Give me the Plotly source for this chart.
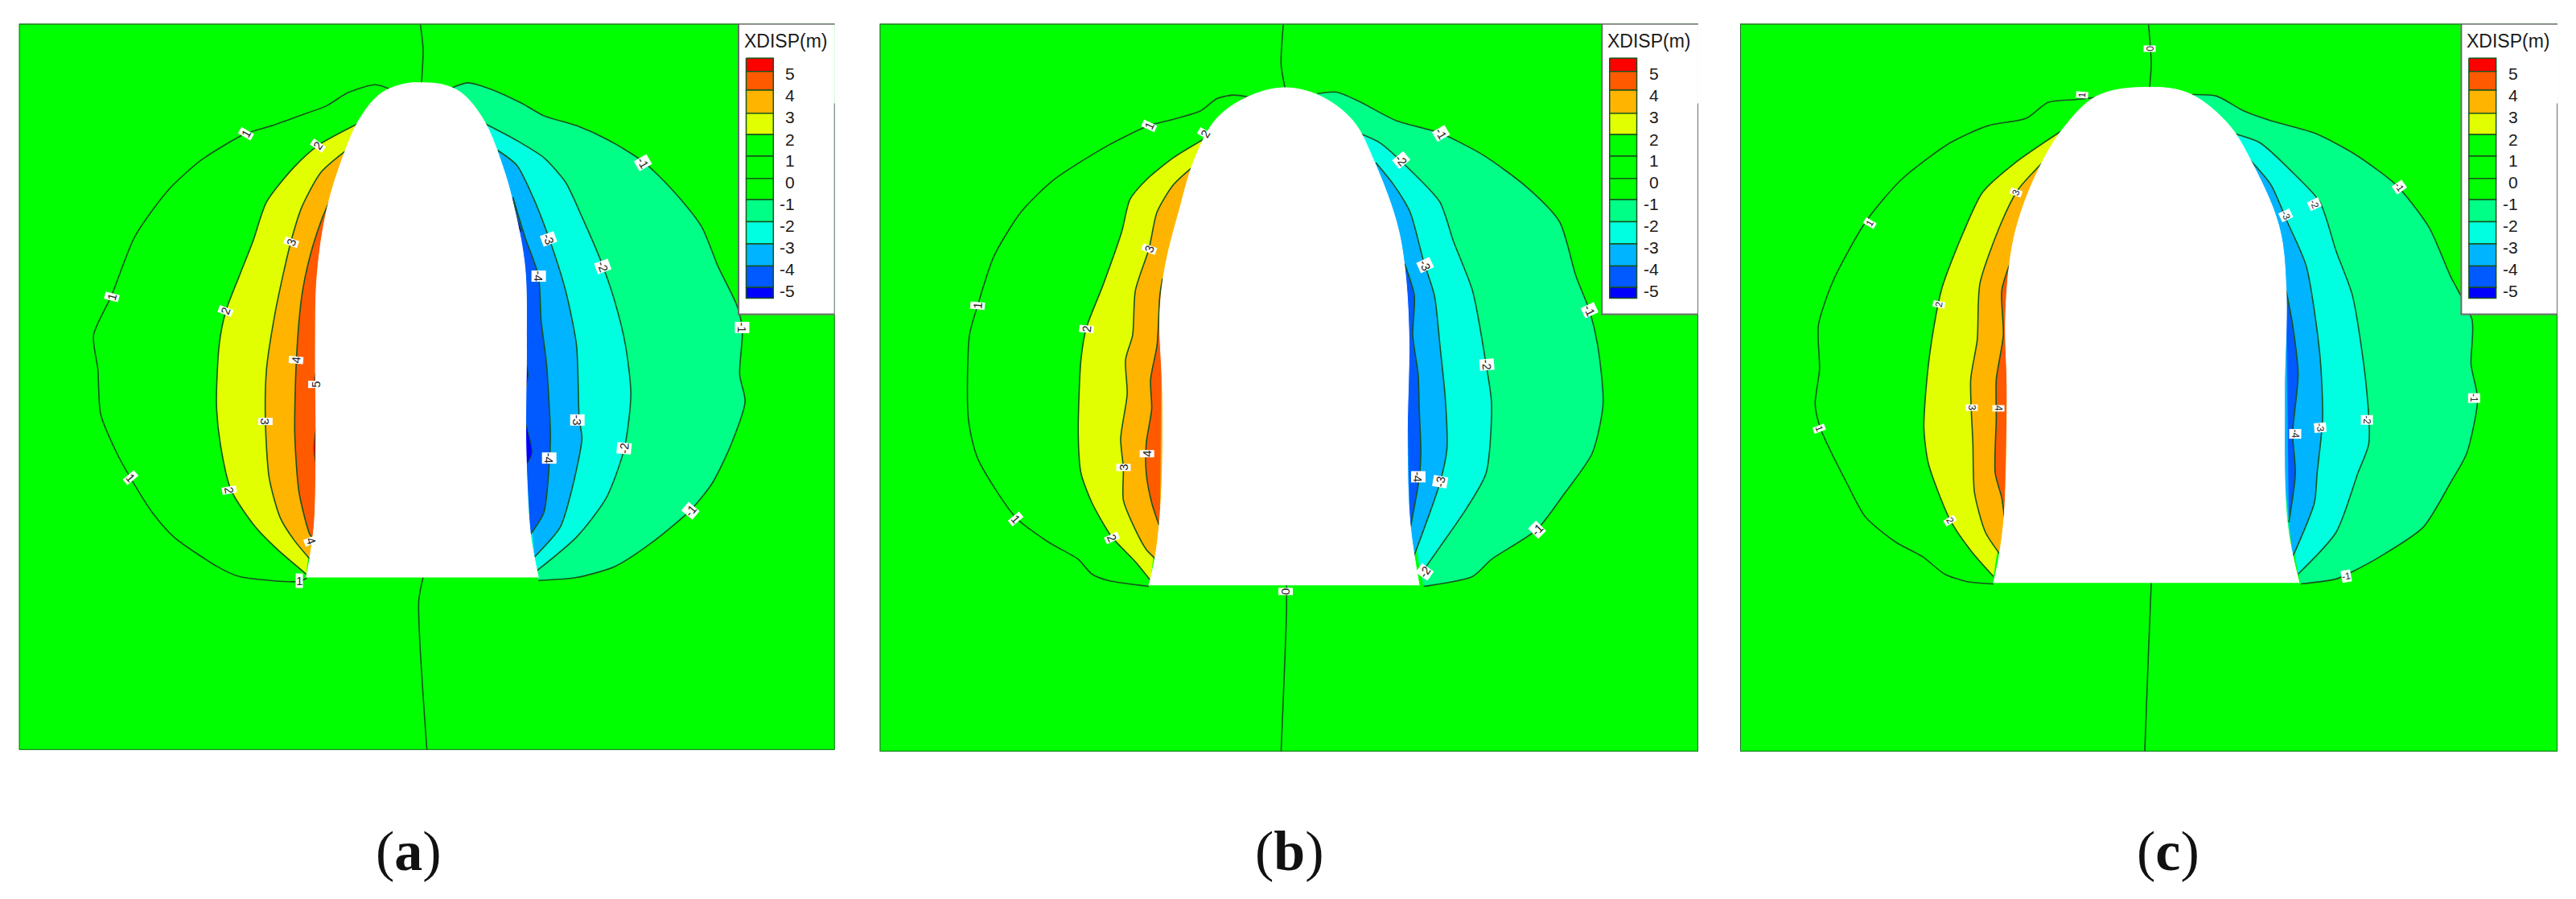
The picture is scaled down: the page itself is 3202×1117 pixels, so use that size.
import plotly.graph_objects as go

W, H = 3202, 1117

# ---------- levels and legend ----------
LEVEL_LABELS = ["5", "4", "3", "2", "1", "0", "-1", "-2", "-3", "-4", "-5"]
LEVEL_LABEL_Y = [150, 193, 237, 283, 326, 370, 414, 458, 502, 546, 591]
BAND_EDGES = [118, 145, 183, 230, 273, 317, 362, 405, 450, 495, 540, 583, 605]
BAND_COLORS = ["#ff0000", "#ff5a00", "#ffb400", "#e1ff00", "#00ff00", "#00ff00",
               "#00ff00", "#00ff87", "#00ffe1", "#00b4ff", "#005aff", "#0000ff"]
LINE = "#17531f"

# ---------- panel (a) ----------
A_TUNNEL = [(563,1172),(570,1130),(578,1060),(581,900),(580,700),(583,560),(600,430),(630,320),(662,240),(700,190),(745,170),(778,168),(815,172),(850,190),(890,245),(925,340),(945,420),(965,540),(968,700),(967,900),(975,1080),(990,1172)]
A_L1 = [(720,182),(690,172),(640,188),(600,215),(550,235),(500,255),(450,272),(370,325),(310,385),(248,480),(205,600),(172,680),(180,750),(185,840),(215,920),(240,970),(280,1040),(320,1090),(400,1150),(440,1170),(550,1180),(565,1172)]
A_L2 = [(660,250),(585,295),(540,340),(490,410),(465,490),(440,560),(415,632),(403,700),(398,820),(405,900),(425,995),(470,1070),(510,1115),(563,1165)]
A_L3 = [(637,305),(590,350),(555,420),(535,490),(520,560),(505,640),(490,750),(488,855),(495,970),(515,1050),(540,1095),(570,1135)]
A_L4 = [(605,410),(590,450),(570,520),(555,600),(545,730),(542,880),(550,1000),(570,1085),(578,1095)]
A_L5 = [[(584,745),(578,770),(584,800)], [(584,850),(577,910),(584,960)]]
A_R1 = [(827,180),(860,168),(900,180),(960,210),(1000,235),(1060,255),(1120,285),(1185,330),(1240,390),(1290,460),(1320,540),(1355,620),(1365,670),(1360,760),(1370,815),(1345,900),(1310,980),(1270,1035),(1200,1100),(1130,1150),(1060,1172),(990,1178)]
A_R2 = [(890,250),(950,285),(1000,320),(1040,370),(1070,440),(1105,530),(1130,610),(1150,700),(1160,800),(1148,910),(1115,1010),(1060,1090),(985,1160)]
A_R3 = [(915,305),(950,335),(980,400),(1010,485),(1040,590),(1060,700),(1065,850),(1070,890),(1050,1000),(1030,1070),(983,1130)]
A_R4 = [(943,400),(965,480),(990,560),(995,650),(1005,740),(1012,880),(1010,940),(1000,1040),(975,1085)]
A_R5 = [[(943,400),(950,440),(958,470),(940,460)], [(964,720),(971,760),(964,800)], [(964,850),(978,920),(964,950)]]
A_TOP = [(773,50),(778,100),(775,168)]
A_BOTTOM = [(778,1172),(770,1220),(785,1522)]
A_TAGS = [(452,272,"1",-60),(205,603,"1",-75),(240,970,"1",50),(550,1178,"1",0),(585,295,"2",-55),(415,632,"2",-70),(422,995,"2",80),(535,492,"3",-70),(488,855,"3",90),(545,730,"4",-85),(572,1097,"4",70),(580,780,"5",-90),(1183,330,"-1",60),(1365,665,"-1",90),(1270,1037,"-1",-50),(1108,540,"-2",70),(1147,910,"-2",-85),(1008,485,"-3",70),(1062,853,"-3",90),(990,560,"-4",90),(1010,930,"-4",90)]

# ---------- panel (b) ----------
B_TUNNEL = [(515,1188),(528,1120),(538,1000),(540,800),(535,640),(545,540),(570,430),(600,320),(640,240),(700,195),(765,178),(830,195),(890,245),(930,330),(970,450),(985,540),(993,680),(990,900),(995,1060),(1012,1188)]
B_L1 = [(700,197),(670,193),(640,200),(610,225),(560,242),(515,255),(440,295),(340,365),(280,430),(230,520),(200,620),(185,680),(183,850),(200,930),(270,1050),(330,1100),(385,1135),(410,1165),(440,1178),(515,1190)]
B_L2 = [(615,283),(560,320),(510,365),(480,405),(465,470),(430,580),(400,665),(390,730),(385,880),(390,960),(410,1020),(447,1090),(490,1140),(518,1178)]
B_L3 = [(592,342),(560,375),(530,430),(515,505),(490,590),(485,680),(472,730),(475,800),(463,890),(468,950),(468,1015),(490,1075),(510,1115),(528,1135)]
B_L4 = [(540,565),(535,600),(530,700),(518,770),(520,830),(510,900),(510,960),(520,1020),(535,1070)]
B_R1 = [(825,190),(860,187),(900,205),(970,245),(1050,270),(1130,315),(1210,380),(1270,450),(1300,560),(1325,630),(1340,700),(1350,820),(1330,920),(1280,1000),(1228,1075),(1145,1135),(1110,1170),(1020,1190)]
B_R2 = [(905,272),(940,290),(1000,350),(1050,410),(1075,490),(1110,590),(1135,740),(1145,820),(1135,960),(1100,1030),(1050,1110),(1015,1165)]
B_R3 = [(932,330),(965,375),(995,430),(1020,530),(1040,600),(1050,700),(1060,810),(1063,910),(1050,980),(1000,1135)]
B_R4 = [(985,535),(1003,600),(1000,680),(1010,760),(1012,830),(1015,920),(1012,970),(995,1075)]
B_TOP = [(762,50),(758,130),(765,178)]
B_BOTTOM = [(768,1188),(768,1240),(758,1525)]
B_TAGS = [(515,255,"1",-65),(200,620,"1",-85),(270,1052,"1",50),(618,272,"2",-60),(400,667,"2",-85),(447,1092,"2",65),(515,505,"3",-70),(468,948,"3",-90),(511,920,"4",-90),(1052,270,"-1",60),(1325,630,"-1",65),(1228,1075,"-1",-45),(978,325,"-2",50),(1137,740,"-2",85),(1022,1160,"-2",-55),(1023,538,"-3",65),(1050,977,"-3",-80),(1010,968,"-4",90),(766,1200,"0",90)]

# ---------- panel (c) ----------
C_TUNNEL = [(500,1183),(510,1130),(520,1040),(525,800),(522,650),(530,530),(545,450),(580,350),(625,265),(690,195),(785,177),(860,190),(930,250),(975,330),(1025,460),(1038,590),(1035,800),(1040,1060),(1062,1183)]
C_L1 = [(695,197),(650,202),(600,208),(560,240),(490,255),(420,290),(330,365),(265,450),(205,570),(178,660),(180,750),(172,820),(182,870),(230,980),(265,1050),(320,1100),(370,1130),(410,1165),(450,1180),(500,1185)]
C_L2 = [(623,267),(540,330),(480,390),(445,470),(405,585),(385,700),(375,800),(372,870),(380,940),(420,1055),(460,1120),(500,1170)]
C_L3 = [(590,330),(545,385),(515,450),(475,575),(470,690),(458,770),(462,900),(465,1000),(485,1080),(512,1125)]
C_L4 = [(530,535),(515,590),(518,680),(505,770),(505,850),(503,960),(515,1010),(520,1050)]
C_R1 = [(865,192),(910,195),(960,225),(1010,245),(1090,270),(1160,310),(1240,375),(1300,460),(1340,560),(1380,650),(1378,740),(1390,810),(1370,920),(1340,980),(1290,1070),(1210,1130),(1160,1160),(1130,1175),(1065,1185)]
C_R2 = [(945,272),(990,290),(1050,350),(1100,410),(1130,510),(1160,600),(1185,780),(1190,900),(1170,960),(1130,1080),(1060,1165)]
C_R3 = [(972,325),(1010,375),(1040,450),(1075,540),(1100,720),(1105,850),(1095,960),(1090,1020),(1050,1130)]
C_R4 = [(1038,590),(1050,660),(1060,760),(1050,880),(1055,960),(1043,1060)]
C_TOP = [(785,50),(790,130),(787,177)]
C_BOTTOM = [(790,1183),(785,1320),(778,1525)]
C_TAGS = [(787,98,"0",90),(663,193,"1",-85),(273,453,"1",-60),(180,870,"1",70),(400,618,"2",-80),(420,1057,"2",60),(541,390,"3",-70),(460,828,"3",90),(509,828,"4",90),(1247,380,"-1",55),(1384,808,"-1",90),(1148,1170,"-1",-10),(1090,415,"-2",65),(1187,852,"-2",90),(1038,437,"-3",65),(1100,868,"-3",85),(1055,880,"-4",90)]

PANELS = [
    dict(name="(a)", ax="", px0=0, span=(35,1535,48,1522), cap=508,
         tunnel=A_TUNNEL, left=[A_L2,A_L3,A_L4], right=[A_R1,A_R2,A_R3,A_R4], left_line=A_L1,
         red=A_L5, deep=A_R5, top=A_TOP, bottom=A_BOTTOM, tags=A_TAGS, tag_size=15),
    dict(name="(b)", ax="2", px0=1080, span=(20,1525,48,1525), cap=1603,
         tunnel=B_TUNNEL, left=[B_L2,B_L3,B_L4], right=[B_R1,B_R2,B_R3,B_R4], left_line=B_L1,
         red=[], deep=[], top=B_TOP, bottom=B_BOTTOM, tags=B_TAGS, tag_size=15),
    dict(name="(c)", ax="3", px0=2140, span=(34,1537,48,1525), cap=2695,
         tunnel=C_TUNNEL, left=[C_L2,C_L3,C_L4], right=[C_R1,C_R2,C_R3,C_R4], left_line=C_L1,
         red=[], deep=[], top=C_TOP, bottom=C_BOTTOM, tags=C_TAGS, tag_size=12),
]

SX = 1060 / 1568
SY = 960 / 1568
fig = go.Figure()
ann = []


def xy(pts):
    return [p[0] for p in pts], [p[1] for p in pts]


def add(pts, ax, fill=None, color=LINE, width=1.6, smooth=True):
    x, y = xy(pts)
    line = dict(color=color, width=width)
    if smooth:
        line.update(shape="spline", smoothing=0.7)
    fig.add_trace(go.Scatter(
        x=x, y=y, mode="lines", hoverinfo="skip", showlegend=False,
        fill="toself" if fill else "none", fillcolor=fill, line=line,
        xaxis="x" + ax, yaxis="y" + ax))


for p in PANELS:
    ax = p["ax"]
    x0, x1, y0, y1 = p["span"]
    fx0 = (p["px0"] + x0 * SX) / W
    fx1 = (p["px0"] + x1 * SX) / W
    fy0 = 1 - y1 * SY / H
    fy1 = 1 - y0 * SY / H
    base = dict(showgrid=False, zeroline=False, showticklabels=False, ticks="", showline=False)
    fig.update_layout({
        "xaxis" + ax: dict(base, domain=[fx0, fx1], range=[x0, x1]),
        "yaxis" + ax: dict(base, domain=[fy0, fy1], range=[y1, y0]),
    })

    # filled contour bands, outermost first
    add(p["left_line"], ax)
    for pts, col in zip(p["left"], ["#e1ff00", "#ffb400", "#ff5a00"]):
        add(pts, ax, fill=col)
    for pts in p["red"]:
        add(pts, ax, fill="#ff0000", width=1)
    for pts, col in zip(p["right"], ["#00ff87", "#00ffe1", "#00b4ff", "#005aff"]):
        add(pts, ax, fill=col)
    for pts in p["deep"]:
        add(pts, ax, fill="#0000ff", width=1)
    add(p["top"], ax)
    add(p["bottom"], ax)

    # tunnel opening
    x, y = xy(p["tunnel"])
    fig.add_trace(go.Scatter(x=x, y=y, mode="lines", fill="toself", fillcolor="#ffffff",
                             line=dict(color="#ffffff", width=1, shape="spline", smoothing=1.0),
                             hoverinfo="skip", showlegend=False,
                             xaxis="x" + ax, yaxis="y" + ax))

    # frame
    add([(x1, y0), (x0, y0)], ax, color="#3c3c3c", width=2, smooth=False)
    add([(x0, y0), (x0, y1), (x1, y1), (x1, 638)], ax, color="#1f6a28", width=2, smooth=False)

    # legend box
    L = x1 - 177
    add([(L, y0), (x1, y0), (x1, 638), (L, 638), (L, y0)], ax, fill="#ffffff", color="#ffffff", width=1, smooth=False)
    add([(L, y0), (L, 638), (x1, 638), (x1, 210)], ax, color="#6a6a6a", width=2, smooth=False)
    add([(L, y0), (x1, y0)], ax, color="#3c3c3c", width=2, smooth=False)
    sx0, sx1 = x1 - 163, x1 - 113
    for i, col in enumerate(BAND_COLORS):
        t, b = BAND_EDGES[i], BAND_EDGES[i + 1]
        fig.add_trace(go.Scatter(x=[sx0, sx1, sx1, sx0, sx0], y=[t, t, b, b, t], mode="lines",
                                 fill="toself", fillcolor=col, line=dict(color="#17531f", width=1.5),
                                 hoverinfo="skip", showlegend=False, xaxis="x" + ax, yaxis="y" + ax))
    for lab, ly in zip(LEVEL_LABELS, LEVEL_LABEL_Y):
        ann.append(dict(x=x1 - 70, y=ly, xref="x" + ax, yref="y" + ax, text=lab, showarrow=False,
                        xanchor="right", yanchor="middle",
                        font=dict(family="Liberation Sans", size=21, color="#1a1a1a")))
    ann.append(dict(x=x1 - 90, y=83, xref="x" + ax, yref="y" + ax, text="XDISP(m)", showarrow=False,
                    xanchor="center", yanchor="middle",
                    font=dict(family="Liberation Sans", size=23, color="#1a1a1a")))

    # contour tags
    for tx, ty, txt, rot in p["tags"]:
        ann.append(dict(x=tx, y=ty, xref="x" + ax, yref="y" + ax, text=txt, showarrow=False,
                        textangle=rot, bgcolor="#ffffff", borderpad=0,
                        font=dict(family="Liberation Sans", size=p["tag_size"], color="#222222")))

    # caption
    letter = p["name"][1]
    ann.append(dict(x=p["cap"] / W, y=1 - 1057 / H, xref="paper", yref="paper",
                    text=f"(<b>{letter}</b>)", showarrow=False, xanchor="center", yanchor="middle",
                    font=dict(family="Liberation Serif", size=70, color="#111111")))

fig.update_layout(width=W, height=H, autosize=False, margin=dict(l=0, r=0, t=0, b=0),
                  paper_bgcolor="#ffffff", plot_bgcolor="#00ff00", showlegend=False,
                  annotations=ann)
fig.write_html("out.html", config={"displayModeBar": False},
               post_script="document.body.style.margin='0';document.body.style.overflow='hidden';")
